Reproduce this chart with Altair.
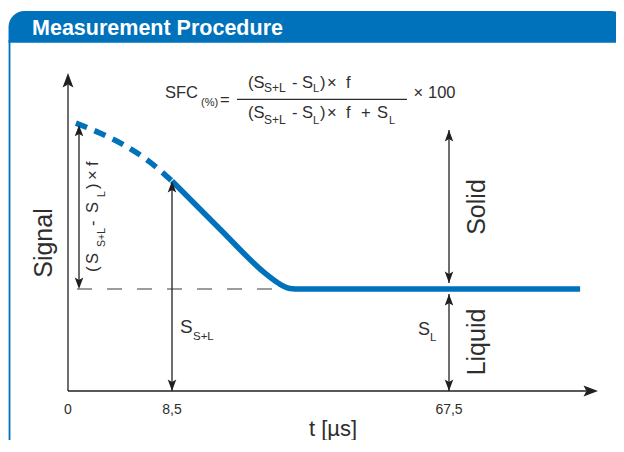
import altair as alt
import pandas as pd

# ------------------------------------------------------------------
# Values (schematic FID signal, SFC method)
# t in µs on a schematic (piecewise) time axis, signal in arbitrary units
# ------------------------------------------------------------------
tick_t = [0, 8.5, 67.5]
tick_labels = ["0", "8,5", "67,5"]

fid_dashed_t = [0.65, 2.6, 4.7, 6.7, 8.5]
fid_dashed_s = [89.3, 86.0, 81.7, 76.3, 70.0]

fid_solid_t = [8.5, 18.7, 28.3, 31.1, 33.6, 35.8, 87.3]
fid_solid_s = [70.0, 54.0, 39.3, 36.0, 34.2, 34.0, 34.0]

S_L = 34.0          # liquid signal level
S_SL = 70.0         # solid + liquid signal at 8.5 µs
S_0 = 88.7          # extrapolated signal at t = 0
T_AXIS_END = 90.0
S_AXIS_END = 106.0

# ------------------------------------------------------------------
BLUE = "#0072BB"
INK = "#231F20"
TXT = "#2E2E2E"
FONT = "Liberation Sans"
ARROW = "M0,0 L0.75,2 L0,1.6 L-0.75,2 Z"

xs = alt.Scale(domain=[0, 8.5, 67.5, 90], range=[60, 164, 441, 590], nice=False, zero=False)
ys = alt.Scale(domain=[0, 100], range=[383, 83], nice=False, zero=False)


def X(f="t"):
    return alt.X(f"{f}:Q", scale=xs, axis=None)


def Y(f="s"):
    return alt.Y(f"{f}:Q", scale=ys, axis=None)


# panel header band and left border of the panel
header_df = pd.DataFrame({"t": [-4.86], "t2": [94.3], "s": [126.7], "s2": [116.1]})
border_df = pd.DataFrame({"t": [-4.78], "s": [117.0], "s2": [-22.0]})

header = alt.Chart(header_df).mark_rect(
    color=BLUE, cornerRadiusTopLeft=24, cornerRadiusTopRight=20
).encode(x=X(), x2="t2:Q", y=Y(), y2="s2:Q")

border = alt.Chart(border_df).mark_rule(color=BLUE, strokeWidth=1.8).encode(
    x=X(), y=Y(), y2="s2:Q")

header_txt = alt.Chart(
    pd.DataFrame({"label": ["Measurement Procedure"], "t": [-2.94], "s": [118.67]})
).mark_text(align="left", baseline="alphabetic", font=FONT, fontSize=21.5,
            fontWeight="bold", color="white").encode(x=X(), y=Y(), text="label:N")

# axes, dimension arrows
rules_df = pd.DataFrame({
    "t":  [0, 0, 0.9, 8.5, 67.5, 67.5],
    "t2": [0, 88.2, 0.9, 8.5, 67.5, 67.5],
    "s":  [0, 0, S_L + 1, 0, S_L + 2, 0],
    "s2": [S_AXIS_END - 3.9, 0, S_0 - 1, S_SL - 0.5, 87.0, S_L - 1.7],
})
rules = alt.Chart(rules_df).mark_rule(color=INK, strokeWidth=1.3).encode(
    x=X(), x2="t2:Q", y=Y(), y2="s2:Q")

heads_df = pd.DataFrame({
    "t":     [0, T_AXIS_END, 0.9, 0.9, 8.5, 8.5, 67.5, 67.5, 67.5, 67.5],
    "s":     [S_AXIS_END, 0, S_0, S_L, S_SL, 0, 87.0, S_L + 2, S_L - 1.7, 0],
    "angle": [0, 90, 0, 180, 0, 180, 0, 180, 0, 180],
    "size":  [210, 210, 130, 130, 130, 130, 130, 130, 130, 130],
})
heads = alt.Chart(heads_df).mark_point(
    shape=ARROW, filled=True, color=INK, opacity=1, strokeWidth=0
).encode(x=X(), y=Y(), angle=alt.Angle("angle:Q", scale=None),
         size=alt.Size("size:Q", scale=None))

# dashed liquid level reference
level_df = pd.DataFrame({"t": [0.74], "t2": [31.0], "s": [S_L]})
level = alt.Chart(level_df).mark_rule(color="#3A3A3A", strokeWidth=1.2, strokeDash=[15, 15]).encode(
    x=X(), x2="t2:Q", y=Y())

# fraction bar
bar_df = pd.DataFrame({"t": [22.34], "t2": [58.55], "s": [97.2]})
fbar = alt.Chart(bar_df).mark_rule(color=TXT, strokeWidth=1.4).encode(x=X(), x2="t2:Q", y=Y())

# FID curve
dashed = alt.Chart(pd.DataFrame({"t": fid_dashed_t, "s": fid_dashed_s})).mark_line(
    color=BLUE, strokeWidth=5.5, strokeDash=[12, 8], interpolate="monotone"
).encode(x=X(), y=Y())
solid = alt.Chart(pd.DataFrame({"t": fid_solid_t, "s": fid_solid_s})).mark_line(
    color=BLUE, strokeWidth=5.5, interpolate="monotone", strokeJoin="round"
).encode(x=X(), y=Y())

# texts -------------------------------------------------------------
text_a = pd.DataFrame([
    ("SFC", 7.93, 97.67, 16.5),
    ("(%)", 14.68, 95.0, 11),
    ("=", 18.72, 95.5, 16.5),
    # numerator
    ("(S", 24.69, 101, 16.5), ("S+L", 28.1, 99.67, 12), ("- S", 34.06, 101, 16.5),
    ("L", 38.53, 99.67, 11), (")", 40.02, 101, 16.5), ("×", 41.51, 101, 16.5),
    ("f", 45.56, 101, 16.5),
    # denominator
    ("(S", 24.69, 91, 16.5), ("S+L", 28.1, 89, 12), ("- S", 34.06, 91, 16.5),
    ("L", 38.53, 89, 11), (")", 40.02, 91, 16.5), ("×", 41.51, 91, 16.5),
    ("f", 45.56, 91, 16.5), ("+", 48.76, 91, 16.5), ("S", 52.16, 91, 16.5),
    ("L", 54.72, 89, 11),
    ("×", 59.94, 97.67, 16.5), ("100", 63.03, 97.67, 16.5),
    ("S", 10.2, 19.33, 19), ("S+L", 12.97, 17, 11.5),
    ("S", 60.9, 18.67, 18), ("L", 63.46, 16.67, 11.5),
], columns=["label", "t", "s", "size"])

text_b = pd.DataFrame([
    ("(", 2.45, 39.67, 16.5), ("S", 2.45, 42.33, 16.5), ("S+L", 3.02, 48, 10.5),
    ("-", 2.45, 55, 16.5), ("S", 2.45, 59.33, 16.5), ("L", 3.02, 64.67, 10.5),
    (")", 2.45, 67.33, 16.5), ("×", 2.45, 70.33, 16.5), ("f", 2.45, 75.0, 16.5),
], columns=["label", "t", "s", "size"])

text_c = pd.DataFrame([
    ("Signal", -1.96, 49.33, 25),
    ("Solid", 71.73, 61.33, 25),
    ("Liquid", 71.73, 16.33, 25),
], columns=["label", "t", "s", "size"])

text_d = pd.DataFrame({
    "label": tick_labels + ["t [µs]"],
    "t": tick_t + [42.79],
    "s": [-7.67] * len(tick_t) + [-15.0],
    "size": [14] * len(tick_t) + [22],
})


def texts(df, **kw):
    return alt.Chart(df).mark_text(font=FONT, color=TXT, **kw).encode(
        x=X(), y=Y(), text="label:N", size=alt.Size("size:Q", scale=None))


ta = texts(text_a, align="left", baseline="alphabetic")
tb = texts(text_b, align="left", baseline="alphabetic", angle=270)
tc = texts(text_c, align="center", baseline="middle", angle=270)
td = texts(text_d, align="center", baseline="alphabetic")

chart = alt.layer(
    border, header, header_txt, level, rules, fbar, dashed, solid, heads, ta, tb, tc, td
).properties(
    width=608, height=432, padding=0,
    autosize=alt.AutoSizeParams(type="none"),
    background="white",
).configure_view(stroke=None)

chart.save("out.html", embed_options={"renderer": "svg", "actions": False})
